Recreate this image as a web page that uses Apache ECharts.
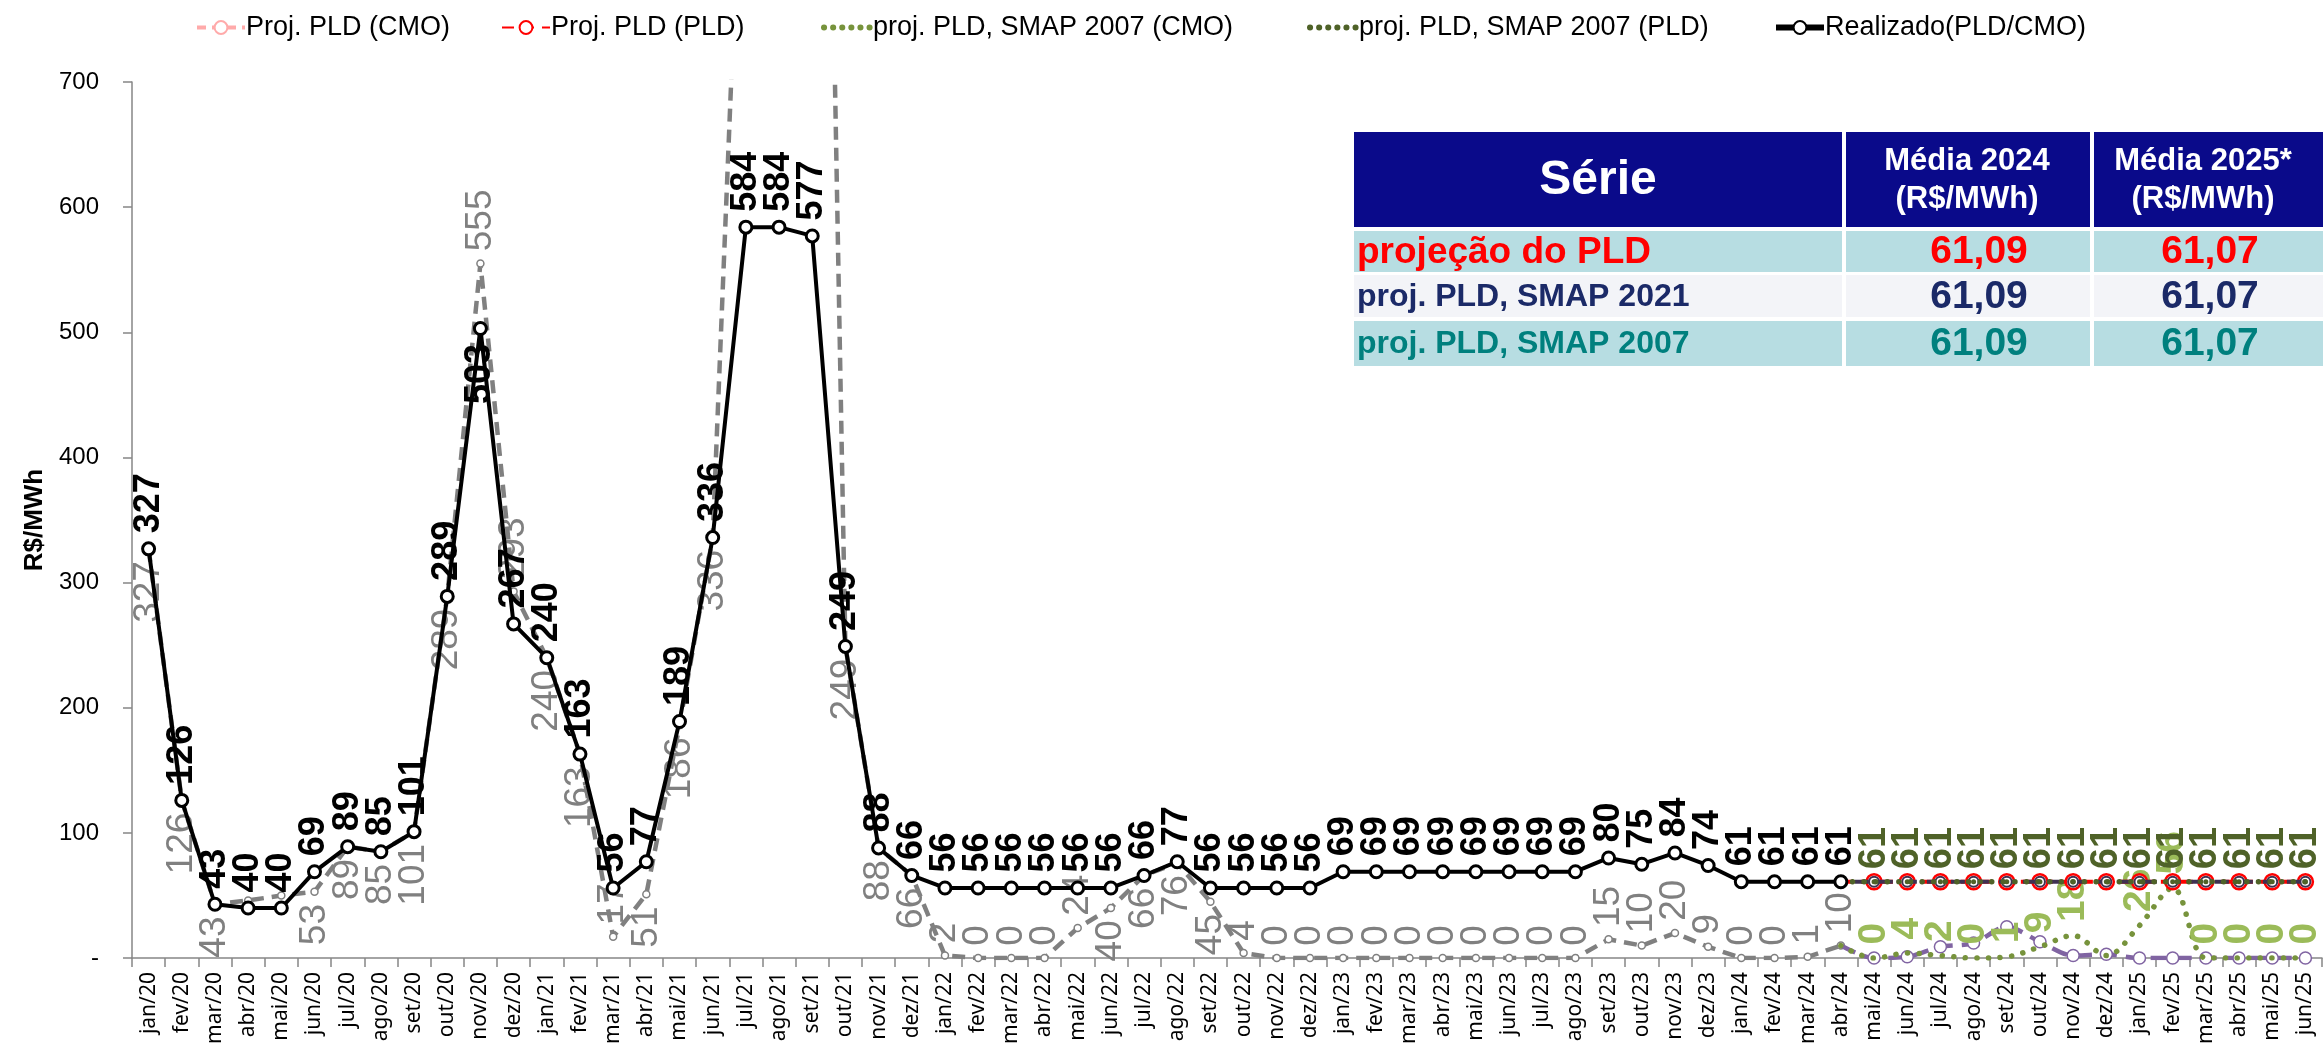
<!DOCTYPE html>
<html><head><meta charset="utf-8">
<script src="https://cdn.jsdelivr.net/npm/echarts@6/dist/echarts.min.js"></script>
<style>html,body{margin:0;padding:0;background:#fff}#c{width:2323px;height:1047px}</style>
</head><body><div id="c"></div>
<script>
// ---------- DATA ----------
const categories = [
 'jan/20','fev/20','mar/20','abr/20','mai/20','jun/20','jul/20','ago/20','set/20','out/20','nov/20','dez/20',
 'jan/21','fev/21','mar/21','abr/21','mai/21','jun/21','jul/21','ago/21','set/21','out/21','nov/21','dez/21',
 'jan/22','fev/22','mar/22','abr/22','mai/22','jun/22','jul/22','ago/22','set/22','out/22','nov/22','dez/22',
 'jan/23','fev/23','mar/23','abr/23','mai/23','jun/23','jul/23','ago/23','set/23','out/23','nov/23','dez/23',
 'jan/24','fev/24','mar/24','abr/24','mai/24','jun/24','jul/24','ago/24','set/24','out/24','nov/24','dez/24',
 'jan/25','fev/25','mar/25','abr/25','mai/25','jun/25'
];
const yTicks = [0,100,200,300,400,500,600,700];

// jan/20 – abr/24
const realizado = [
 327,126,43,40,40,69,89,85,101,289,503,267,
 240,163,56,77,189,336,584,584,577,249,88,66,
 56,56,56,56,56,56,66,77,56,56,56,56,
 69,69,69,69,69,69,69,69,80,75,84,74,
 61,61,61,61
];
const cmoRealizado = [
 327,126,43,46,50,53,89,85,101,289,555,293,
 240,163,17,51,186,336,990,1200,1680,249,88,66,
 2,0,0,0,24,40,66,76,45,4,0,0,
 0,0,0,0,0,0,0,0,15,10,20,9,
 0,0,1,10
];
// abr/24 – jun/25
const projStart = 51;
const projCmo      = [10,0,1,9,12,25,13,2,3,0,0,0,0,0,0];
const projPld      = [61,61,61,61,61,61,61,61,61,61,61,61,61,61,61];
const smap2021Pld  = [61,61,61,61,61,61,61,61,61,61,61,61,61,61,61];
const smap2007Cmo  = [10,0,4,2,0,1,9,18,2,26,56,0,0,0,0];
const smap2007Pld  = [61,61,61,61,61,61,61,61,61,61,61,61,61,61,61];

// table
const tableHeader = ['Série', 'Média 2024\n(R$/MWh)', 'Média 2025*\n(R$/MWh)'];
const tableRows = [
 ['projeção do PLD', '61,09', '61,07'],
 ['proj. PLD, SMAP 2021', '61,09', '61,07'],
 ['proj. PLD, SMAP 2007', '61,09', '61,07']
];

// ---------- HELPERS ----------
const N = categories.length;
function pad(arr, start){ const out = new Array(N).fill(null); arr.forEach((v,i)=>{ out[start+i]=v; }); return out; }
const LBL_FONT = "'Liberation Sans',Arial,sans-serif";
const TXT_FONT = "'Liberation Sans',Arial,sans-serif";
const labelTop = {position:'top', align:'left', verticalAlign:'middle'};
const labelBottom = {position:'bottom', align:'right', verticalAlign:'middle'};

const realizadoBelow = [10];
const realizadoData = realizado.map((v,i)=> realizadoBelow.includes(i) ? {value:v, label:labelBottom} : v);

const grayHidden = [3,4];
const grayAbove = [10,11];
const cmoData = cmoRealizado.map((v,i)=>{
  if (v > 700 || grayHidden.includes(i)) return {value:v, label:{show:false}};
  if (grayAbove.includes(i) || v < 30) return {value:v, label:labelTop};
  return v;
});

function projItems(arr, opts){
  opts = opts || {};
  return pad(arr, projStart).map((v,i)=>{
    if (v === null) return null;
    const item = {value:v};
    if (i === projStart) { item.symbol = 'none'; item.label = {show:false}; }
    if (opts.hideLabel && opts.hideLabel.includes(i)) item.label = {show:false};
    return item;
  });
}

// ---------- CHART ----------
const chart = echarts.init(document.getElementById('c'), null, {renderer:'canvas'});

const dotted = {type:[0.1, 11.5], cap:'round', width:5.5};

const tableGraphics = [];
(function buildTable(){
  const colX = [1354, 1846, 2094];
  const colW = [488, 244, 240];
  const headC = [1598, 1967, 2203];
  const valC = [0, 1979, 2210];
  const headerY = 132, headerH = 95;
  const rowY = [231, 275, 321], rowH = [41, 42, 45];
  const rowBg = ['#B7DDE2', '#F3F4F8', '#B7DDE2'];
  const rowColor = ['#FF0000', '#1B2A68', '#00807E'];
  const rowFont = [37, 32, 32];
  for (let c=0;c<3;c++){
    tableGraphics.push({type:'rect', shape:{x:colX[c], y:headerY, width:colW[c], height:headerH}, style:{fill:'#0A0A8A'}, silent:true});
    tableGraphics.push({type:'text', x:headC[c], y:headerY+headerH/2+1,
      style:{text:tableHeader[c], fill:'#fff', align:'center', verticalAlign:'middle',
        font: (c===0 ? 'bold 48px ' : 'bold 31px ') + TXT_FONT, lineHeight: 38}, silent:true});
  }
  for (let r=0;r<3;r++){
    for (let c=0;c<3;c++){
      tableGraphics.push({type:'rect', shape:{x:colX[c], y:rowY[r], width:colW[c], height:rowH[r]}, style:{fill:rowBg[r]}, silent:true});
      tableGraphics.push({type:'text',
        x: c===0 ? colX[c]+3 : valC[c],
        y: rowY[r]+rowH[r]/2+1,
        style:{text:tableRows[r][c], fill:rowColor[r], align: c===0?'left':'center', verticalAlign:'middle',
          font:'bold ' + (c===0 ? rowFont[r] : 39) + 'px ' + TXT_FONT}, silent:true});
    }
  }
})();

function legendItem(left, item){
  return {left:left, top:9, itemWidth:48, itemHeight:16, itemGap:10, selectedMode:false,
    textStyle:{fontSize:27, color:'#000', fontFamily:TXT_FONT, padding:[0,0,0,-4]}, data:[item]};
}
const noMarker = {color:'transparent', borderColor:'transparent', opacity:0};
const legendDots = {type:[0.1, 9], cap:'round', width:6};

const option = {
  animation:false,
  backgroundColor:'#fff',
  grid:{left:132, right:1, top:82, bottom:83, containLabel:false},
  legend:[
    legendItem(190, {name:'Proj. PLD (CMO)', itemStyle:{color:'#fff', borderColor:'#FFAAAA', borderWidth:2}, lineStyle:{color:'#FFAAAA', type:[9,6], width:4}}),
    legendItem(496, {name:'Proj. PLD (PLD)'}),
    legendItem(816, {name:'proj. PLD, SMAP 2007 (CMO)', itemStyle:noMarker, lineStyle:Object.assign({color:'#77933C'}, legendDots)}),
    legendItem(1302, {name:'proj. PLD, SMAP 2007 (PLD)', itemStyle:noMarker, lineStyle:Object.assign({color:'#4F6228'}, legendDots)}),
    legendItem(1768, {name:'Realizado(PLD/CMO)', lineStyle:{color:'#000', width:6}})
  ],
  xAxis:{
    type:'category', data:categories, boundaryGap:true,
    axisLine:{lineStyle:{color:'#868686', width:1.5}},
    axisTick:{show:true, length:9, alignWithLabel:false, interval:0, lineStyle:{color:'#868686', width:1.5}},
    axisLabel:{interval:0, rotate:90, margin:14, fontSize:21, color:'#000', fontFamily:"'Noto Sans','Open Sans',sans-serif"},
    splitLine:{show:false}
  },
  yAxis:{
    type:'value', min:0, max:700, interval:100,
    name:'R$/MWh', nameLocation:'middle', nameGap:68, nameRotate:90,
    nameTextStyle:{fontSize:26, fontWeight:'bold', color:'#000', fontFamily:TXT_FONT},
    axisLine:{show:true, lineStyle:{color:'#868686', width:1.5}},
    axisTick:{show:true, length:9, lineStyle:{color:'#868686', width:1.5}},
    axisLabel:{margin:33, fontSize:24, color:'#000', fontFamily:TXT_FONT,
      formatter:(v)=> yTicks.includes(v) ? (v===0 ? '-' : String(v)) : ''},
    splitLine:{show:false}
  },
  graphic: tableGraphics,
  series:[
    {
      name:'CMO realizado', type:'line', z:3, clip:true,
      data:cmoData, symbol:'circle', symbolSize:7,
      itemStyle:{color:'#fff', borderColor:'#808080', borderWidth:1.5},
      lineStyle:{color:'#808080', width:4.5, type:[13,8]},
      label:{show:true, position:'bottom', rotate:90, align:'right', verticalAlign:'middle', distance:8,
        color:'#808080', fontFamily:LBL_FONT, fontSize:37}
    },
    {
      name:'Proj. PLD (CMO)', type:'line', z:4, smooth:0.3,
      data:projItems(projCmo), symbol:'circle', symbolSize:12,
      itemStyle:{color:'#fff', borderColor:'#8064A2', borderWidth:1.5},
      lineStyle:{color:'#8064A2', width:4.5, type:[16,9]}
    },
    {
      name:'proj. PLD, SMAP 2007 (CMO)', type:'line', z:5, smooth:0.35,
      data:projItems(smap2007Cmo, {hideLabel:[59]}), symbol:'circle', symbolSize:2,
      itemStyle:{color:'transparent', borderColor:'transparent'},
      lineStyle:Object.assign({color:'#77933C'}, dotted),
      label:{show:true, position:'top', rotate:90, align:'left', verticalAlign:'middle', distance:12,
        color:'#9BBB59', fontFamily:LBL_FONT, fontWeight:'bold', fontSize:39}
    },
    {
      name:'Proj. PLD (PLD)', type:'line', z:6,
      data:projItems(projPld), symbol:'circle', symbolSize:15,
      itemStyle:{color:'#fff', borderColor:'#FF0000', borderWidth:2.5},
      lineStyle:{color:'#FF0000', width:4, type:[12,8]}
    },
    {
      name:'proj. PLD, SMAP 2021 (PLD)', type:'line', z:7,
      data:projItems(smap2021Pld), symbol:'circle', symbolSize:10,
      itemStyle:{color:'#fff', borderColor:'#3F3151', borderWidth:2},
      lineStyle:{color:'#3F3151', width:4, type:[14,10], dashOffset:10}
    },
    {
      name:'proj. PLD, SMAP 2007 (PLD)', type:'line', z:8,
      data:projItems(smap2007Pld), symbol:'circle', symbolSize:5,
      itemStyle:{color:'#4F6228'},
      lineStyle:Object.assign({color:'#4F6228'}, dotted),
      label:{show:true, position:'top', rotate:90, align:'left', verticalAlign:'middle', distance:10,
        color:'#4F6228', fontFamily:LBL_FONT, fontWeight:'bold', fontSize:38}
    },
    {
      name:'Realizado(PLD/CMO)', type:'line', z:10,
      data:realizadoData, symbol:'circle', symbolSize:12,
      itemStyle:{color:'#fff', borderColor:'#000', borderWidth:3},
      lineStyle:{color:'#000', width:4},
      label:{show:true, position:'top', rotate:90, align:'left', verticalAlign:'middle', distance:8,
        color:'#000', fontFamily:LBL_FONT, fontWeight:'bold', fontSize:36}
    }
  ]
};
chart.setOption(option);
</script>
</body></html>
